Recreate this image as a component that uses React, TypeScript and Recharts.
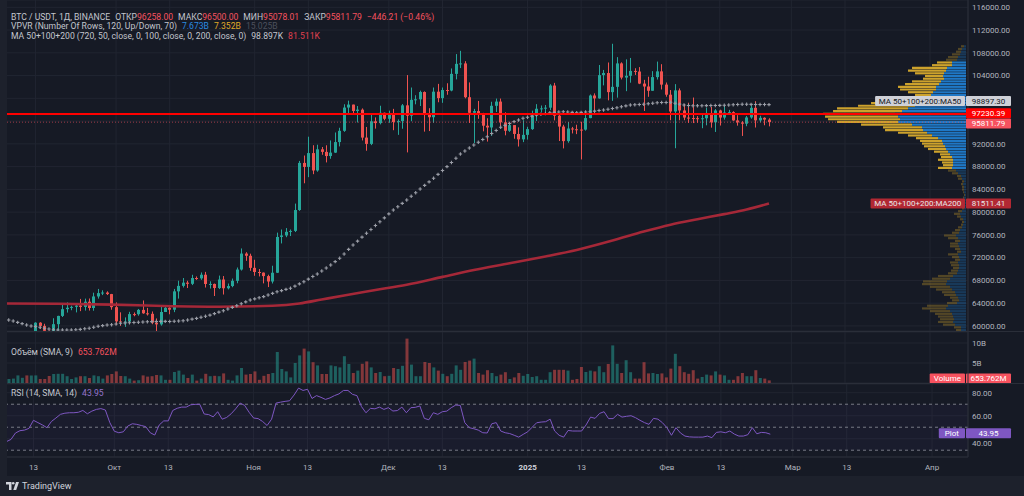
import React from 'react';
import {
  ComposedChart,
  Bar,
  Line,
  XAxis,
  YAxis,
  CartesianGrid,
  ReferenceLine,
  ReferenceArea,
  Cell,
} from 'recharts';

// BTC / USDT, 1D, Binance: 6 Sep 2024 .. 24 Feb 2025 (last bar still open)
const FIRST_DAY = '2024-09-06';
const SLOTS = 216; // day slots across the pane, incl. the empty space right of the last bar

const OPEN = [
  56160, 53950, 54160, 54870, 57050, 57650, 57340, 58130, 60570, 60010,
  59130, 58210, 60310, 61760, 62950, 63200, 63350, 63580, 63340, 64260,
  63150, 65180, 65770, 65870, 65600, 63300, 60800, 60650, 60750, 62080,
  62060, 62820, 62220, 62130, 60580, 60270, 62450, 63190, 62850, 66080,
  67040, 67610, 67400, 68420, 68360, 69000, 67370, 67380, 66660, 68160,
  66620, 67010, 67930, 69910, 72720, 72330, 70210, 69480, 69370, 68760,
  67810, 69350, 75640, 75900, 76540, 76700, 80370, 88650, 87950, 90380,
  87320, 91040, 90590, 89860, 90460, 92310, 94290, 98380, 98900, 97780,
  98010, 93100, 91990, 95960, 95650, 97460, 96410, 97190, 95840, 96000,
  98770, 96950, 99740, 99830, 101110, 97400, 96680, 101170, 100040, 101460,
  101370, 104300, 106060, 106140, 100200, 97460, 97760, 97280, 95190, 94880,
  98690, 99430, 95790, 94300, 95300, 93740, 92790, 93580, 94590, 96980,
  98170, 98240, 98360, 102250, 96950, 95040, 92480, 94700, 94570, 94510,
  94500, 96530, 100500, 99990, 104080, 104450, 101090, 102020, 106140, 103650,
  103960, 104820, 104710, 102590, 102080, 101330, 103730, 104740, 102410, 100640,
  97690, 101400, 97870, 96620, 96550, 96510, 96450, 96500, 97430, 95780,
  97870, 96620, 97510, 97570, 96120, 95770, 95540, 96640, 98330, 96130,
  96580, 96258,
];
const HIGH = [
  56995, 54850, 55300, 58090, 58040, 57990, 58590, 60650, 60660, 60380,
  59200, 61350, 61790, 63850, 64130, 63560, 64000, 64750, 64800, 64820,
  65840, 66500, 66260, 66080, 65630, 64130, 62390, 61500, 62480, 62370,
  62980, 64480, 63170, 62540, 61320, 63400, 63480, 63280, 66500, 67950,
  68420, 67940, 68990, 68700, 69400, 69500, 67840, 67450, 68850, 68770,
  67450, 68330, 70270, 73620, 72960, 72700, 71630, 70000, 69400, 69000,
  70580, 76400, 76950, 77200, 76950, 81500, 89000, 89950, 93260, 91760,
  91850, 91450, 91750, 92600, 94000, 94830, 98960, 99590, 98900, 98650,
  98230, 94970, 97200, 96650, 98700, 97500, 97840, 98150, 96300, 99000,
  104090, 101900, 100550, 101350, 101220, 98270, 101900, 102540, 101900, 102650,
  105250, 107780, 108350, 106530, 102800, 98150, 99540, 97450, 96500, 99400,
  99960, 99960, 97540, 95530, 95300, 94900, 96150, 95000, 97840, 98980,
  98740, 98830, 102480, 102720, 97260, 95350, 95840, 94980, 95360, 95890,
  97370, 100680, 100870, 105860, 104990, 106300, 109590, 107240, 106330, 106850,
  107100, 105290, 105490, 103250, 103800, 104780, 106460, 106000, 102780, 101460,
  102500, 101740, 99000, 99230, 100140, 96880, 97320, 98350, 98500, 98120,
  98000, 98830, 97970, 97730, 97040, 96000, 96900, 98770, 99500, 96940,
  96670, 96500,
];
const LOW = [
  52550, 53740, 53650, 54590, 56400, 55550, 57320, 57630, 59450, 58700,
  57490, 57610, 59170, 61570, 62350, 62760, 62380, 62600, 62700, 62700,
  62670, 64800, 65420, 65430, 62850, 60170, 60000, 59830, 60460, 61700,
  61800, 62130, 61830, 60300, 58900, 60050, 62450, 62050, 62420, 64800,
  66750, 66660, 67180, 68100, 68100, 66750, 66570, 65260, 66480, 65520,
  66420, 66800, 67500, 69730, 71440, 69690, 68820, 68700, 67480, 66830,
  67460, 69300, 74500, 75600, 75800, 76500, 80220, 85070, 86150, 86670,
  87100, 90080, 88740, 89380, 90400, 91550, 94110, 97200, 97130, 95760,
  92600, 90790, 91780, 94680, 95420, 96150, 95700, 94400, 93580, 94660,
  90500, 95980, 98950, 98650, 94150, 94250, 95700, 99310, 99210, 100630,
  101240, 103330, 105320, 100000, 95670, 92130, 96400, 94200, 92400, 93400,
  97600, 95130, 93500, 94100, 92900, 91530, 92300, 92750, 94450, 96030,
  97530, 97270, 97920, 96130, 92500, 91200, 92200, 93830, 93710, 89260,
  94320, 96500, 97250, 99940, 102280, 99650, 99550, 100120, 103330, 101260,
  102750, 104110, 102500, 97780, 100270, 101330, 103300, 101560, 100280, 96150,
  91230, 96150, 96160, 95680, 95650, 95700, 94750, 95260, 94850, 94090,
  95220, 96260, 97220, 96050, 95200, 93390, 95100, 96420, 94870, 95770,
  95270, 95078.01,
];
const CLOSE = [
  53950, 54160, 54870, 57050, 57650, 57340, 58130, 60570, 60010, 59130,
  58210, 60310, 61760, 62950, 63200, 63350, 63580, 63340, 64260, 63150,
  65180, 65770, 65870, 65600, 63300, 60800, 60650, 60750, 62080, 62060,
  62820, 62220, 62130, 60580, 60270, 62450, 63190, 62850, 66080, 67040,
  67610, 67400, 68420, 68360, 69000, 67370, 67380, 66660, 68160, 66620,
  67010, 67930, 69910, 72720, 72330, 70210, 69480, 69370, 68760, 67810,
  69350, 75640, 75900, 76540, 76700, 80370, 88650, 87950, 90380, 87320,
  91040, 90590, 89860, 90460, 92310, 94290, 98380, 98900, 97780, 98010,
  93100, 91990, 95960, 95650, 97460, 96410, 97190, 95840, 96000, 98770,
  96950, 99740, 99830, 101110, 97400, 96680, 101170, 100040, 101460, 101370,
  104300, 106060, 106140, 100200, 97460, 97760, 97280, 95190, 94880, 98690,
  99430, 95790, 94300, 95300, 93740, 92790, 93580, 94590, 96980, 98170,
  98240, 98360, 102250, 96950, 95040, 92480, 94700, 94570, 94510, 94500,
  96530, 100500, 99990, 104080, 104450, 101090, 102020, 106140, 103650, 103960,
  104820, 104710, 102590, 102080, 101330, 103730, 104740, 102410, 100640, 97690,
  101400, 97870, 96620, 96550, 96510, 96450, 96500, 97430, 95780, 97870,
  96620, 97510, 97570, 96120, 95770, 95540, 96640, 98330, 96130, 96580,
  96260, 95811.79,
];
// daily volume, billions of USDT
const VOLUME_B = [
  2.3, 1.0, 1.1, 1.9, 1.3, 1.9, 1.9, 1.9, 1.0, 1.0,
  1.75, 2.25, 2.3, 2.3, 1.7, 1.0, 1.4, 1.7, 1.7, 1.25,
  1.9, 1.7, 1.1, 1.9, 2.25, 2.9, 1.75, 1.7, 1.1, 0.6,
  0.7, 1.9, 1.6, 1.7, 2.0, 1.9, 0.8, 0.8, 2.75, 3.1,
  2.1, 1.25, 2.1, 0.6, 1.1, 2.3, 1.7, 1.8, 1.7, 2.4,
  0.8, 0.6, 1.9, 3.75, 2.1, 2.25, 2.9, 0.8, 1.8, 2.25,
  2.5, 7.75, 3.5, 2.9, 1.4, 5.0, 6.9, 8.6, 7.9, 5.2,
  4.4, 2.25, 2.25, 4.4, 4.2, 3.9, 6.7, 4.75, 2.5, 3.1,
  4.8, 5.4, 3.9, 2.5, 2.75, 1.7, 1.8, 3.75, 3.5, 4.3,
  11.1, 4.6, 1.7, 1.7, 5.25, 5.0, 3.9, 3.1, 2.3, 1.7,
  2.3, 4.4, 3.3, 5.25, 5.6, 6.1, 2.5, 2.1, 3.2, 2.5,
  1.7, 2.1, 2.7, 1.0, 1.4, 2.5, 1.8, 2.25, 1.5, 1.7,
  0.8, 0.8, 2.7, 3.3, 3.3, 3.3, 3.1, 0.8, 1.0, 4.0,
  2.75, 3.1, 2.9, 4.2, 2.7, 4.75, 9.4, 4.8, 2.5, 5.7,
  2.7, 1.1, 1.1, 5.2, 2.4, 2.5, 2.25, 2.4, 1.4, 3.6,
  7.3, 4.2, 2.7, 2.3, 3.2, 1.1, 1.5, 2.1, 1.9, 2.9,
  2.1, 1.9, 0.8, 0.8, 1.7, 2.5, 1.7, 1.7, 3.2, 1.25,
  1.1, 0.653762,
];
const RSI = [
  35.1, 37.5, 39.4, 45, 47, 47.5, 49, 56, 54, 52,
  49.6, 55, 58, 61.2, 62.2, 62.6, 62.6, 63, 64.6, 61.7,
  64, 65.5, 66.2, 65, 54, 46.5, 45.2, 46, 51, 53,
  52.5, 51.5, 50.5, 45.2, 43.2, 52, 55.5, 55.5, 64.6, 66.5,
  67.5, 67.5, 69.5, 69.9, 70, 61.5, 61, 59, 63.5, 57,
  58.5, 61.7, 66, 71, 69, 63, 58, 57.5, 55, 51.5,
  57, 71, 71.8, 72.5, 73, 78, 84, 82, 83, 75,
  77.5, 76, 74.2, 75.5, 77.5, 79, 82, 82, 78.6, 77.5,
  68, 62.6, 66.4, 66, 67.5, 65.5, 67, 64.1, 64.5, 67.5,
  62.6, 67, 67.3, 68.5, 57.7, 56.5, 62.6, 61.2, 63.5, 64,
  67, 69.3, 69, 54, 49.6, 48.7, 47.5, 45.2, 45, 53,
  54, 46.7, 45.2, 44.5, 43, 41.4, 43.8, 46, 50, 53.9,
  54.5, 54.8, 57, 46.7, 43, 41.4, 47.2, 46.7, 46.7, 46.7,
  52, 58.8, 57.7, 62, 63.5, 57.5, 57.5, 61.2, 58.8, 59.5,
  60, 58.3, 56, 54, 52.5, 57.7, 57, 53.9, 49.6, 43,
  49.6, 45, 42.3, 41.6, 41.4, 41.4, 41.4, 42.3, 40.9, 45.5,
  46, 45.2, 46.7, 44, 42.3, 42.3, 43.5, 49.6, 44.3, 45.5,
  45.2, 43.95,
];
const MA50 = [
  61250, 61050, 60870, 60620, 60400, 60160, 60000, 59900, 59760, 59600,
  59460, 59330, 59280, 59280, 59280, 59290, 59330, 59400, 59500, 59600,
  59760, 59940, 60050, 60160, 60220, 60340, 60460, 60520, 60570, 60610,
  60650, 60700, 60740, 60760, 60780, 60800, 60800, 60780, 60820, 60870,
  60920, 61050, 61190, 61330, 61520, 61710, 61900, 62160, 62420, 62680,
  62970, 63270, 63560, 63890, 64220, 64560, 64760, 64950, 65150, 65430,
  65720, 66000, 66200, 66420, 66620, 67000, 67390, 67770, 68220, 68680,
  69130, 69650, 70180, 70700, 71300, 71900, 72650, 73450, 74230, 74900,
  75600, 76280, 76960, 77640, 78320, 79000, 79690, 80370, 80960, 81540,
  82130, 82780, 83420, 84070, 84700, 85320, 85950, 86630, 87310, 87990,
  88730, 89480, 90220, 90750, 91270, 91800, 92290, 92770, 93260, 93810,
  94360, 94910, 95240, 95570, 95900, 96180, 96490, 96680, 96880, 97070,
  97210, 97340, 97480, 97540, 97600, 97650, 97600, 97540, 97480, 97540,
  97600, 97650, 97750, 97850, 97950, 98080, 98220, 98350, 98510, 98670,
  98830, 98870, 98910, 98950, 99040, 99140, 99230, 99260, 99280, 99300,
  99150, 98990, 98830, 98750, 98710, 98710, 98710, 98720, 98730, 98750,
  98770, 98780, 98820, 98870, 98920, 98950, 98950, 98940, 98930, 98920,
  98910, 98897.3,
];
// MA200 at a few bars: [bar index, value]
const MA200_AT: [number, number][] = [
  [0, 63950], [12, 63900], [24, 63750], [36, 63500], [48, 63380], [60, 63550],
  [66, 63950], [71, 64650], [76, 65350], [83, 66300], [90, 67250], [98, 68620],
  [105, 69830], [113, 71000], [121, 72200], [128, 73350], [136, 75000],
  [143, 76600], [149, 77800], [155, 78750], [161, 79650], [166, 80450], [171, 81511.41],
];

const TICK_DATES = [
  '2024-09-13', '2024-10-01', '2024-10-13', '2024-11-01', '2024-11-13', '2024-12-01', '2024-12-13',
  '2025-01-01', '2025-01-13', '2025-02-01', '2025-02-13', '2025-03-01', '2025-03-13', '2025-04-01',
];
const TICK_LABELS = ['13', 'Окт', '13', 'Ноя', '13', 'Дек', '13', '2025', '13', 'Фев', '13', 'Мар', '13', 'Апр'];
const PRICE_TICKS = [60000, 64000, 68000, 72000, 76000, 80000, 84000, 88000, 92000, 96000, 100000, 104000, 108000, 112000, 116000];
// these axis labels sit under the price tags in the picture
const PRICE_TICKS_COVERED = [96000, 100000];
const VOL_TICKS = [5, 10];
const RSI_TICKS = [40, 60, 80];

// VPVR rows (bottom to top), relative up / down volume per row
const VP_FIRST_ROW = 59230;
const VP_ROW_STEP = 475;
const VP_UP = [
  5, 5, 11, 13, 12, 13, 14, 16, 20, 18, 9, 7, 8, 10, 11, 14, 16, 20, 19, 16,
  13, 9, 8, 7, 7, 8, 6, 7, 8, 5, 6, 7, 8, 6, 8, 10, 7, 6, 4, 3,
  2, 3, 5, 6, 4, 2, 2, 2, 1, 2, 1, 2, 2, 2, 3, 2, 4, 5, 8, 10,
  14, 13, 13, 13, 14, 16, 18, 20, 21, 23, 24, 28, 34, 39, 43, 44, 54, 68, 66, 68,
  71, 64, 58, 51, 45, 40, 36, 35, 33, 30, 30, 27, 25, 22, 23, 22, 20, 19, 14, 14,
  9, 8, 6, 5, 4, 2,
];
const VP_DOWN = [
  5, 7, 12, 15, 14, 15, 17, 20, 24, 21, 10, 7, 8, 12, 13, 16, 20, 24, 24, 18,
  15, 9, 7, 6, 8, 8, 5, 7, 10, 4, 5, 9, 8, 5, 10, 12, 7, 5, 4, 2,
  2, 3, 4, 6, 4, 2, 1, 1, 1, 1, 1, 1, 2, 2, 2, 2, 4, 4, 6, 8,
  14, 10, 11, 15, 11, 10, 14, 18, 21, 21, 22, 22, 24, 29, 38, 39, 51, 61, 72, 73,
  72, 69, 71, 57, 50, 45, 33, 16, 25, 36, 38, 34, 29, 21, 18, 29, 38, 35, 20, 15,
  11, 10, 8, 5, 4, 3,
];
const VALUE_AREA: [number, number] = [87500, 106500];

const POC = 97230.39;
const LAST_PRICE = 95811.79;
const LAST_MA50 = 98897.3;
const LAST_MA200 = 81511.41;
const LAST_VOL = 0.653762;
const LAST_RSI = 43.95;

// ---------- look ----------
const BG = '#161a25';
const FRAME = '#1d212c';
const GRID = '#212531';
const SEP = '#2a2e39';
const TEXT = '#b2b5be';
const UP = '#26a69a';
const DOWN = '#ef5350';
const FONT = 'Roboto, "Noto Sans", sans-serif';

const W = 1024;
const MAIN_H = 331;
const VOL_TOP = 331;
const VOL_H = 52;
const RSI_TOP = 383;
const RSI_H = 93;
const AXIS_W = 56;
const MARGIN = { top: 0, right: 0, bottom: 0, left: 2 };

const PRICE_DOMAIN: [number, number] = [59110, 117283];
const VOL_DOMAIN: [number, number] = [0, 12.75];
const RSI_DOMAIN: [number, number] = [24.1, 87.6];

const DAY_MS = 86400000;
const T0 = Date.parse(FIRST_DAY + 'T00:00:00Z');
const dayIndex = (iso: string) => Math.round((Date.parse(iso + 'T00:00:00Z') - T0) / DAY_MS);
const tickIdx = TICK_DATES.map(dayIndex);
const tickLabel = new Map(tickIdx.map((d, k) => [d, TICK_LABELS[k]]));

const ma200Map = new Map(MA200_AT);
const rows = Array.from({ length: SLOTS }, (_, i) => {
  const has = i < CLOSE.length;
  return {
    i,
    o: has ? OPEN[i] : null,
    h: has ? HIGH[i] : null,
    l: has ? LOW[i] : null,
    c: has ? CLOSE[i] : null,
    range: has ? [LOW[i], HIGH[i]] : null,
    vol: has ? VOLUME_B[i] : null,
    rsi: has ? RSI[i] : null,
    ma50: has ? MA50[i] : null,
    ma200: ma200Map.has(i) ? ma200Map.get(i) : null,
  };
});

const vpRows = VP_UP.map((u, k) => ({ p: VP_FIRST_ROW + k * VP_ROW_STEP, up: u, down: VP_DOWN[k] }));
const vpMax = Math.max(...vpRows.map((r) => r.up + r.down));
const inVA = (p: number) => p >= VALUE_AREA[0] && p <= VALUE_AREA[1];

const Candle = (props: any) => {
  const { x, y, width, height, payload } = props;
  if (!payload || payload.o == null || y == null || isNaN(y)) return <g />;
  const { o, h, l, c } = payload;
  const color = c >= o ? UP : DOWN;
  const k = height / (h - l || 1);
  const yO = y + (h - o) * k;
  const yC = y + (h - c) * k;
  const rx = Math.round(x + width / 2 - 1.5);
  const cx = rx + 1.5;
  const top = Math.min(yO, yC);
  return (
    <g>
      <line x1={cx} x2={cx} y1={y} y2={y + height} stroke={color} strokeWidth={1} />
      <rect x={rx} y={top} width={3} height={Math.max(1, Math.abs(yO - yC))} fill={color} />
    </g>
  );
};

const CrossDot = (p: any) => {
  const { cx, cy, index, payload } = p;
  if (cx == null || cy == null || !payload || payload.ma50 == null) return <g key={`x${index}`} />;
  return (
    <path
      key={`x${index}`}
      d={`M${cx - 1.7},${cy}H${cx + 1.7}M${cx},${cy - 1.7}V${cy + 1.7}`}
      stroke="#9a9da6"
      strokeWidth={1.1}
    />
  );
};

// nudge: label value -> extra px down (keeps a label clear of a value tag)
const axisTick = (fmt: (v: number) => string, skip: number[] = [], nudge: Record<number, number> = {}) => (p: any) =>
  skip.includes(p.payload.value) ? (
    <g />
  ) : (
    <text
      x={p.x}
      y={p.y + (nudge[p.payload.value] || 0)}
      dy="0.35em"
      textAnchor="start"
      fontSize={8}
      fill={TEXT}
      fontFamily={FONT}
    >
      {fmt(p.payload.value)}
    </text>
  );

const DateTick = (p: any) => {
  const label = tickLabel.get(p.payload.value);
  const bold = label === '2025';
  return (
    <text
      x={p.x}
      y={p.y + 10}
      dy="0.35em"
      textAnchor="middle"
      fontSize={8}
      fontWeight={bold ? 700 : 400}
      fill={bold ? '#d1d4dc' : TEXT}
      fontFamily={FONT}
    >
      {label}
    </text>
  );
};

const Tag = (props: any) => {
  const { viewBox, text, bg, fg, name, shift = 0 } = props;
  if (!viewBox) return null;
  const right = viewBox.x + viewBox.width - 2;
  const cy = viewBox.y + shift;
  const hh = 5;
  const nameW = name ? name.length * 4.55 + 8 : 0;
  return (
    <g fontFamily={FONT} fontSize={8}>
      {name ? (
        <>
          <rect x={right - 1 - nameW} y={cy - hh} width={nameW} height={hh * 2} rx={1} fill={bg} />
          <text x={right - 1 - nameW / 2} y={cy} dy="0.35em" textAnchor="middle" fill={fg}>
            {name}
          </text>
        </>
      ) : null}
      <rect x={right} y={cy - hh} width={45} height={hh * 2} rx={1} fill={bg} />
      <text x={right + 22.5} y={cy} dy="0.35em" textAnchor="middle" fill={fg}>
        {text}
      </text>
    </g>
  );
};

const xAxisHidden = <XAxis dataKey="i" type="category" hide ticks={tickIdx} interval={0} />;

const Legend = ({ top, children }: { top: number; children: React.ReactNode }) => (
  <div
    style={{
      position: 'absolute',
      left: 11,
      top,
      fontFamily: FONT,
      fontSize: 8.6,
      lineHeight: '10px',
      color: '#c3c6ce',
      whiteSpace: 'nowrap',
    }}
  >
    {children}
  </div>
);

const red = (s: string) => <span style={{ color: '#f7525f' }}>{s}</span>;
const gap = { marginLeft: 5 };
const layer = (top: number): React.CSSProperties => ({ position: 'absolute', left: 0, top });

export default function App() {
  return (
    <div style={{ position: 'fixed', left: 0, top: 0, width: W, height: 496, background: BG, overflow: 'hidden' }}>
      {/* main pane: grid, MA200, candles, MA50 */}
      <div style={layer(0)}>
        <ComposedChart width={W} height={MAIN_H} data={rows} margin={MARGIN}>
          <CartesianGrid stroke={GRID} />
          {xAxisHidden}
          <YAxis
            orientation="right"
            width={AXIS_W}
            domain={PRICE_DOMAIN}
            ticks={PRICE_TICKS}
            interval={0}
            allowDataOverflow
            tickLine={false}
            tickSize={0}
            tickMargin={4}
            axisLine={{ stroke: SEP }}
            tick={axisTick((v) => v.toFixed(2), PRICE_TICKS_COVERED)}
          />
          <Line
            dataKey="ma200"
            type="monotone"
            connectNulls
            stroke="#a52838"
            strokeWidth={2.6}
            dot={false}
            isAnimationActive={false}
          />
          <Bar dataKey="range" barSize={3} shape={Candle} isAnimationActive={false} />
          <Line dataKey="ma50" stroke="none" dot={CrossDot} isAnimationActive={false} />
        </ComposedChart>
      </div>

      {/* volume profile, fixed range, anchored to the right edge */}
      <div style={layer(0)}>
        <ComposedChart
          width={966}
          height={MAIN_H}
          data={vpRows}
          layout="vertical"
          margin={{ top: 0, right: 0, bottom: 0, left: 0 }}
        >
          <XAxis type="number" hide reversed domain={[0, vpMax / 0.148]} />
          <YAxis type="number" dataKey="p" hide reversed domain={PRICE_DOMAIN} allowDataOverflow />
          <Bar dataKey="up" stackId="vp" barSize={2.2} isAnimationActive={false}>
            {vpRows.map((r, k) => (
              <Cell key={k} fill={inVA(r.p) ? '#1f78c6' : 'rgba(31,120,198,0.33)'} />
            ))}
          </Bar>
          <Bar dataKey="down" stackId="vp" barSize={2.2} isAnimationActive={false}>
            {vpRows.map((r, k) => (
              <Cell key={k} fill={inVA(r.p) ? '#cda22c' : 'rgba(205,162,44,0.33)'} />
            ))}
          </Bar>
        </ComposedChart>
      </div>

      {/* price lines and axis tags on top */}
      <div style={layer(0)}>
        <ComposedChart width={W} height={MAIN_H} data={rows} margin={MARGIN}>
          {xAxisHidden}
          <YAxis
            orientation="right"
            width={AXIS_W}
            domain={PRICE_DOMAIN}
            allowDataOverflow
            tick={false}
            axisLine={false}
            tickLine={false}
          />
          <Line dataKey="ma50" stroke="none" dot={false} isAnimationActive={false} />
          <ReferenceLine
            y={LAST_PRICE}
            stroke="#f7525f"
            strokeOpacity={0.6}
            strokeDasharray="1 2"
            label={<Tag text="95811.79" bg="#f7525f" fg="#ffffff" shift={1.3} />}
          />
          <ReferenceLine
            y={POC}
            stroke="#ff0000"
            strokeWidth={2}
            label={<Tag text="97230.39" bg="#ff0000" fg="#ffffff" shift={-0.8} />}
          />
          <ReferenceLine
            y={LAST_MA50}
            strokeOpacity={0}
            label={<Tag text="98897.30" name="MA 50+100+200:MA50" bg="#cfd1d8" fg="#131722" shift={-3.6} />}
          />
          <ReferenceLine
            y={LAST_MA200}
            strokeOpacity={0}
            label={<Tag text="81511.41" name="MA 50+100+200:MA200" bg="#b22833" fg="#e8e8ea" />}
          />
        </ComposedChart>
      </div>

      {/* volume pane */}
      <div style={{ ...layer(VOL_TOP), borderTop: `1px solid ${SEP}`, boxSizing: 'border-box' }}>
        <ComposedChart width={W} height={VOL_H} data={rows} margin={{ ...MARGIN, bottom: 1 }}>
          <CartesianGrid stroke={GRID} />
          {xAxisHidden}
          <YAxis
            orientation="right"
            width={AXIS_W}
            domain={VOL_DOMAIN}
            ticks={VOL_TICKS}
            interval={0}
            tickLine={false}
            tickSize={0}
            tickMargin={4}
            axisLine={{ stroke: SEP }}
            tick={axisTick((v) => `${v}B`)}
          />
          <Bar dataKey="vol" barSize={3} isAnimationActive={false}>
            {rows.map((r) => (
              <Cell
                key={r.i}
                fill={r.c != null && r.o != null && r.c >= r.o ? 'rgba(38,166,154,0.5)' : 'rgba(239,83,80,0.5)'}
              />
            ))}
          </Bar>
          <ReferenceLine
            y={LAST_VOL}
            strokeOpacity={0}
            label={<Tag text="653.762M" name="Volume" bg="#f7525f" fg="#ffffff" shift={-2} />}
          />
        </ComposedChart>
      </div>

      {/* RSI pane with the date axis */}
      <div style={{ ...layer(RSI_TOP), borderTop: `1px solid ${SEP}`, boxSizing: 'border-box' }}>
        <ComposedChart width={W} height={RSI_H} data={rows} margin={MARGIN}>
          <CartesianGrid stroke={GRID} />
          <XAxis
            dataKey="i"
            type="category"
            ticks={tickIdx}
            interval={0}
            height={20}
            tickLine={false}
            tickSize={0}
            tickMargin={0}
            axisLine={{ stroke: SEP }}
            tick={DateTick}
          />
          <YAxis
            orientation="right"
            width={AXIS_W}
            domain={RSI_DOMAIN}
            ticks={RSI_TICKS}
            interval={0}
            tickLine={false}
            tickSize={0}
            tickMargin={4}
            axisLine={{ stroke: SEP }}
            tick={axisTick((v) => v.toFixed(2), [], { 40: 4.5 })}
          />
          <ReferenceArea y1={30} y2={70} fill="rgba(126,87,194,0.1)" strokeOpacity={0} />
          <ReferenceLine y={70} stroke="#787b86" strokeDasharray="3 3" />
          <ReferenceLine y={50} stroke="#787b86" strokeDasharray="3 3" />
          <ReferenceLine y={30} stroke="#787b86" strokeDasharray="3 3" />
          <Line dataKey="rsi" stroke="#7e57c2" strokeWidth={1} dot={false} isAnimationActive={false} />
        </ComposedChart>
      </div>

      {/* RSI value tag above the axis labels */}
      <div style={layer(RSI_TOP)}>
        <ComposedChart width={W} height={RSI_H} data={rows} margin={MARGIN}>
          <XAxis dataKey="i" type="category" height={20} tick={false} axisLine={false} tickLine={false} />
          <YAxis
            orientation="right"
            width={AXIS_W}
            domain={RSI_DOMAIN}
            tick={false}
            axisLine={false}
            tickLine={false}
          />
          <Line dataKey="rsi" stroke="none" dot={false} isAnimationActive={false} />
          <ReferenceLine
            y={LAST_RSI}
            strokeOpacity={0}
            label={<Tag text="43.95" name="Plot" bg="#7e57c2" fg="#ffffff" />}
          />
        </ComposedChart>
      </div>

      {/* legends */}
      <Legend top={11.7}>
        BTC / USDT, 1Д, BINANCE
        <span style={gap}>ОТКР</span>
        {red('96258.00')}
        <span style={gap}>МАКС</span>
        {red('96500.00')}
        <span style={gap}>МИН</span>
        {red('95078.01')}
        <span style={gap}>ЗАКР</span>
        {red('95811.79')}
        <span style={gap}>{red('−446.21 (−0.46%)')}</span>
      </Legend>
      <Legend top={21.3}>
        VPVR (Number Of Rows, 120, Up/Down, 70)
        <span style={{ ...gap, color: '#2a8be0' }}>7.673B</span>
        <span style={{ ...gap, color: '#e0a928' }}>7.352B</span>
        <span style={{ ...gap, color: '#4c505c' }}>15.025B</span>
      </Legend>
      <Legend top={30.7}>
        MA 50+100+200 (720, 50, close, 0, 100, close, 0, 200, close, 0)
        <span style={{ ...gap, color: '#c3c6ce' }}>98.897K</span>
        <span style={{ ...gap, color: '#e04050' }}>81.511K</span>
      </Legend>
      <Legend top={346.7}>
        Объём (SMA, 9)
        <span style={gap}>{red('653.762M')}</span>
      </Legend>
      <Legend top={388.3}>
        RSI (14, SMA, 14)
        <span style={{ ...gap, color: '#9575cd' }}>43.95</span>
      </Legend>

      {/* window frame */}
      <div style={{ position: 'absolute', left: 0, top: 0, width: 7, height: 476, background: FRAME }} />
      <div
        style={{
          position: 'absolute',
          left: 0,
          top: 476,
          width: W,
          height: 20,
          background: FRAME,
          display: 'flex',
          alignItems: 'center',
          paddingLeft: 6,
          boxSizing: 'border-box',
          gap: 3,
        }}
      >
        <svg width={13} height={8} viewBox="0 0 13 8">
          <path d="M0 0H5.5V8H3V2.4H0Z" fill="#d1d4dc" />
          <circle cx={7.2} cy={1.3} r={1.3} fill="#d1d4dc" />
          <path d="M10 0H13L10.2 8H7.3Z" fill="#d1d4dc" />
        </svg>
        <span style={{ fontFamily: FONT, fontSize: 9, color: '#d1d4dc' }}>TradingView</span>
      </div>
    </div>
  );
}
